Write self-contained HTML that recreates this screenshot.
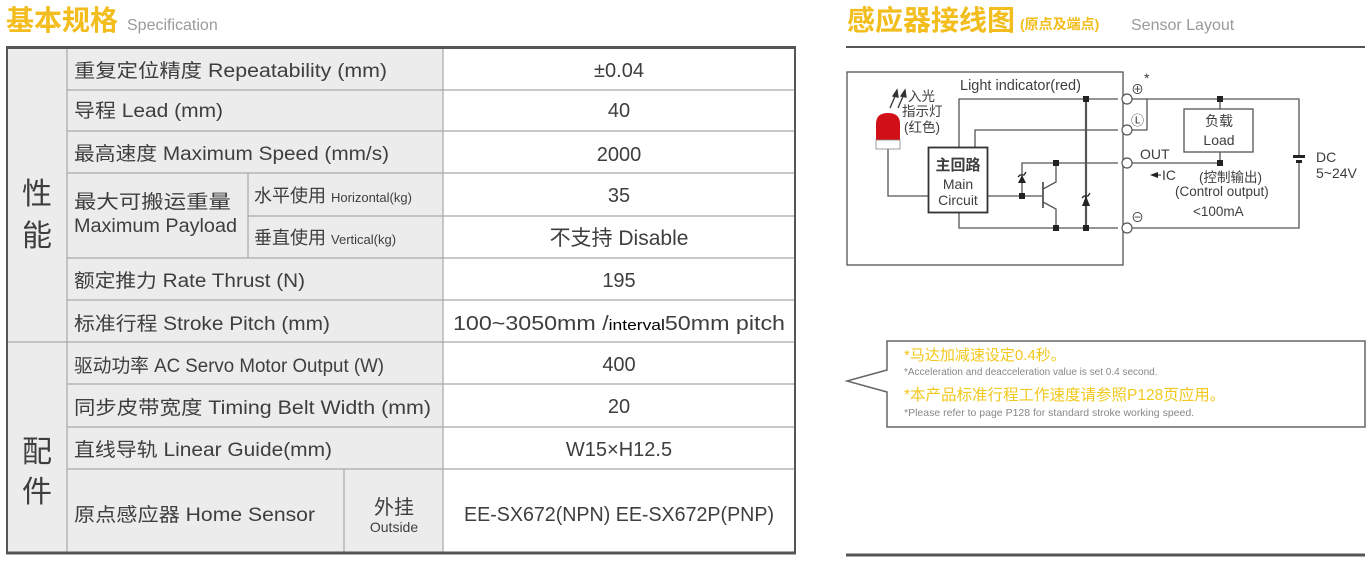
<!DOCTYPE html>
<html><head><meta charset="utf-8"><style>
body{margin:0;background:#fff;}
svg{display:block;}
text{font-family:"Liberation Sans","Noto Sans CJK SC",sans-serif;fill:#3e3e3e;}
</style></head><body>
<svg width="1370" height="565" viewBox="0 0 1370 565" xmlns="http://www.w3.org/2000/svg">
<!-- titles -->
<text x="6" y="30" font-size="28" font-weight="bold" style="fill:#f2bd1d">基本规格</text>
<text x="127" y="30" font-size="16" style="fill:#9a9a9a">Specification</text>
<text x="847" y="30" font-size="28" font-weight="bold" style="fill:#f2bd1d" textLength="168" lengthAdjust="spacingAndGlyphs">感应器接线图</text>
<text x="1020" y="29" font-size="14" font-weight="bold" style="fill:#f2bd1d">(原点及端点)</text>
<text x="1131" y="30" font-size="16" style="fill:#9a9a9a">Sensor Layout</text>

<!-- table backgrounds -->
<rect x="6" y="47" width="437" height="506" fill="#ececec"/>
<rect x="443" y="47" width="352" height="506" fill="#fff"/>
<g stroke="#a8a8a8" stroke-width="1.2">
<line x1="67" y1="90" x2="795" y2="90"/>
<line x1="67" y1="131" x2="795" y2="131"/>
<line x1="67" y1="173" x2="795" y2="173"/>
<line x1="248" y1="216" x2="795" y2="216"/>
<line x1="67" y1="258" x2="795" y2="258"/>
<line x1="67" y1="300" x2="795" y2="300"/>
<line x1="6" y1="342" x2="795" y2="342"/>
<line x1="67" y1="384" x2="795" y2="384"/>
<line x1="67" y1="427" x2="795" y2="427"/>
<line x1="67" y1="469" x2="795" y2="469"/>
<line x1="67" y1="47" x2="67" y2="553"/>
<line x1="443" y1="47" x2="443" y2="553"/>
<line x1="248" y1="173" x2="248" y2="258"/>
<line x1="344" y1="469" x2="344" y2="553"/>
</g>
<rect x="7" y="47.5" width="788" height="505.5" fill="none" stroke="#555" stroke-width="2"/>
<line x1="6" y1="47.5" x2="796" y2="47.5" stroke="#555" stroke-width="3"/>
<line x1="6" y1="553" x2="796" y2="553" stroke="#555" stroke-width="3"/>

<g font-size="30">
<text x="22" y="204">性</text><text x="22" y="246">能</text>
<text x="22" y="462">配</text><text x="22" y="502">件</text>
</g>
<g font-size="19">
<text x="74" y="77" textLength="313" lengthAdjust="spacingAndGlyphs">重复定位精度 Repeatability (mm)</text>
<text x="74" y="117" textLength="149" lengthAdjust="spacingAndGlyphs">导程 Lead (mm)</text>
<text x="74" y="160" textLength="315" lengthAdjust="spacingAndGlyphs">最高速度 Maximum Speed (mm/s)</text>
<text x="74" y="208" textLength="157" lengthAdjust="spacingAndGlyphs">最大可搬运重量</text>
<text x="74" y="232" textLength="163" lengthAdjust="spacingAndGlyphs">Maximum Payload</text>
<text x="74" y="287" textLength="231" lengthAdjust="spacingAndGlyphs">额定推力 Rate Thrust (N)</text>
<text x="74" y="330" textLength="256" lengthAdjust="spacingAndGlyphs">标准行程 Stroke Pitch (mm)</text>
<text x="74" y="372" textLength="310" lengthAdjust="spacingAndGlyphs">驱动功率 AC Servo Motor Output (W)</text>
<text x="74" y="414" textLength="357" lengthAdjust="spacingAndGlyphs">同步皮带宽度 Timing  Belt Width (mm)</text>
<text x="74" y="456" textLength="258" lengthAdjust="spacingAndGlyphs">直线导轨 Linear Guide(mm)</text>
<text x="74" y="521" textLength="241" lengthAdjust="spacingAndGlyphs">原点感应器 Home Sensor</text>
</g>
<text x="254" y="202" font-size="18">水平使用 <tspan font-size="13">Horizontal(kg)</tspan></text>
<text x="254" y="244" font-size="18">垂直使用 <tspan font-size="13">Vertical(kg)</tspan></text>
<text x="394" y="514" font-size="20" text-anchor="middle">外挂</text>
<text x="394" y="532" font-size="14" text-anchor="middle">Outside</text>
<g font-size="20" text-anchor="middle">
<text x="619" y="77">±0.04</text>
<text x="619" y="117">40</text>
<text x="619" y="161">2000</text>
<text x="619" y="202">35</text>
<text x="619" y="245" font-size="21">不支持 Disable</text>
<text x="619" y="287">195</text>
<text x="619" y="371">400</text>
<text x="619" y="413">20</text>
<text x="619" y="456">W15×H12.5</text>
<text x="619" y="521" textLength="310" lengthAdjust="spacingAndGlyphs">EE-SX672(NPN)  EE-SX672P(PNP)</text>
</g>
<text x="453" y="330" font-size="20" textLength="332" lengthAdjust="spacingAndGlyphs">100~3050mm /<tspan font-size="15" style="fill:#000">interval</tspan>50mm pitch</text>

<line x1="846" y1="47" x2="1365" y2="47" stroke="#555" stroke-width="2"/>
<line x1="846" y1="555" x2="1365" y2="555" stroke="#555" stroke-width="3"/>

<!-- circuit -->
<g stroke="#555" stroke-width="1.3" fill="none">
<rect x="847" y="72" width="276" height="193"/>
<polyline points="959,147 959,99 1118,99"/>
<polyline points="975,147 975,130 1118,130"/>
<polyline points="959,213 959,228 1118,228"/>
<polyline points="888,149 888,196 928,196"/>
<line x1="988" y1="196" x2="1043" y2="196"/>
<polyline points="1022,196 1022,163 1118,163"/>
<line x1="1043" y1="182" x2="1043" y2="208" stroke-width="1.8"/>
<polyline points="1043,189 1056,182 1056,163"/>
<polyline points="1043,202 1056,209 1056,228"/>
<polyline points="1128,99 1299,99 1299,155"/>
<polyline points="1299,163 1299,228 1128,228"/>
<polyline points="1128,130 1147,130 1147,99"/>
<line x1="1220" y1="99" x2="1220" y2="109"/>
<line x1="1220" y1="152" x2="1220" y2="163"/>
<line x1="1128" y1="163" x2="1220" y2="163"/>
<line x1="1086" y1="99" x2="1086" y2="228" stroke-width="2.2"/>
<line x1="1152" y1="175" x2="1161" y2="175"/>
</g>
<rect x="928.5" y="147.5" width="59" height="65" fill="#fff" stroke="#333" stroke-width="1.8"/>
<rect x="1184" y="109" width="69" height="43" fill="#fff" stroke="#555" stroke-width="1.3"/>
<g fill="#fff" stroke="#555" stroke-width="1.2">
<circle cx="1127" cy="99" r="5"/><circle cx="1127" cy="130" r="5"/>
<circle cx="1127" cy="163" r="5"/><circle cx="1127" cy="228" r="5"/>
</g>
<g fill="#222">
<rect x="1083" y="96" width="6" height="6"/><rect x="1083" y="225" width="6" height="6"/>
<rect x="1053" y="160" width="6" height="6"/><rect x="1053" y="225" width="6" height="6"/>
<rect x="1019" y="193" width="6" height="6"/><rect x="1217" y="96" width="6" height="6"/>
<rect x="1217" y="160" width="6" height="6"/>
<rect x="1293" y="155" width="12" height="3"/><rect x="1296" y="160" width="6" height="3"/>
<polygon points="1022,175 1018,183 1026,183"/>
<polygon points="1086,196 1082,206 1090,206"/>
<polygon points="1150,175 1158,172 1158,178"/>
</g>
<g stroke="#222" stroke-width="1.3" fill="none">
<polyline points="1018,177 1020,175 1024,175 1026,172"/>
<polyline points="1082,198 1084,196 1088,196 1090,193"/>
</g>
<path d="M876,140 L876,124 Q876,113 888,113 Q900,113 900,124 L900,140 Z" fill="#d10f17"/>
<rect x="876" y="140" width="24" height="9" fill="#fff" stroke="#888" stroke-width="0.8"/>
<g stroke="#333" stroke-width="1.3" fill="#333">
<line x1="890" y1="108" x2="896" y2="94"/><line x1="898" y1="108" x2="904" y2="94"/>
<polygon points="897,90 893,96 898,97"/><polygon points="905,90 901,96 906,97"/>
</g>
<g font-size="13.5">
<text x="908" y="101">入光</text>
<text x="902" y="116">指示灯</text>
<text x="904" y="132">(红色)</text>
<text x="960" y="90" font-size="14.5">Light indicator(red)</text>
<text x="958" y="170" font-size="15" text-anchor="middle" font-weight="bold">主回路</text>
<text x="958" y="189" font-size="14" text-anchor="middle">Main</text>
<text x="958" y="205" font-size="14" text-anchor="middle">Circuit</text>
<text x="1219" y="126" font-size="14" text-anchor="middle">负载</text>
<text x="1219" y="145" font-size="14" text-anchor="middle">Load</text>
<text x="1140" y="159" font-size="14">OUT</text>
<text x="1162" y="180" font-size="14">IC</text>
<text x="1199" y="182">(控制输出)</text>
<text x="1175" y="196">(Control output)</text>
<text x="1193" y="216">&lt;100mA</text>
<text x="1316" y="162" font-size="14">DC</text>
<text x="1316" y="178" font-size="14">5~24V</text>
<text x="1131" y="94" font-size="13">⊕</text>
<text x="1144" y="83" font-size="14">*</text>
<text x="1131" y="125" font-size="13">Ⓛ</text>
<text x="1131" y="222" font-size="13">⊖</text>
</g>

<path d="M887,341 L1365,341 L1365,427 L887,427 L887,392 L847,381 L887,370 Z" fill="#fff" stroke="#666" stroke-width="1.5"/>
<text x="904" y="360" font-size="15" style="fill:#f2c81d">*马达加减速设定0.4秒。</text>
<text x="904" y="375" font-size="10" style="fill:#888">*Acceleration and deacceleration value is set 0.4 second.</text>
<text x="904" y="400" font-size="15.5" style="fill:#f2c81d">*本产品标准行程工作速度请参照P128页应用。</text>
<text x="904" y="416" font-size="10.5" style="fill:#888">*Please refer to page P128 for standard stroke working speed.</text>
</svg>
</body></html>
